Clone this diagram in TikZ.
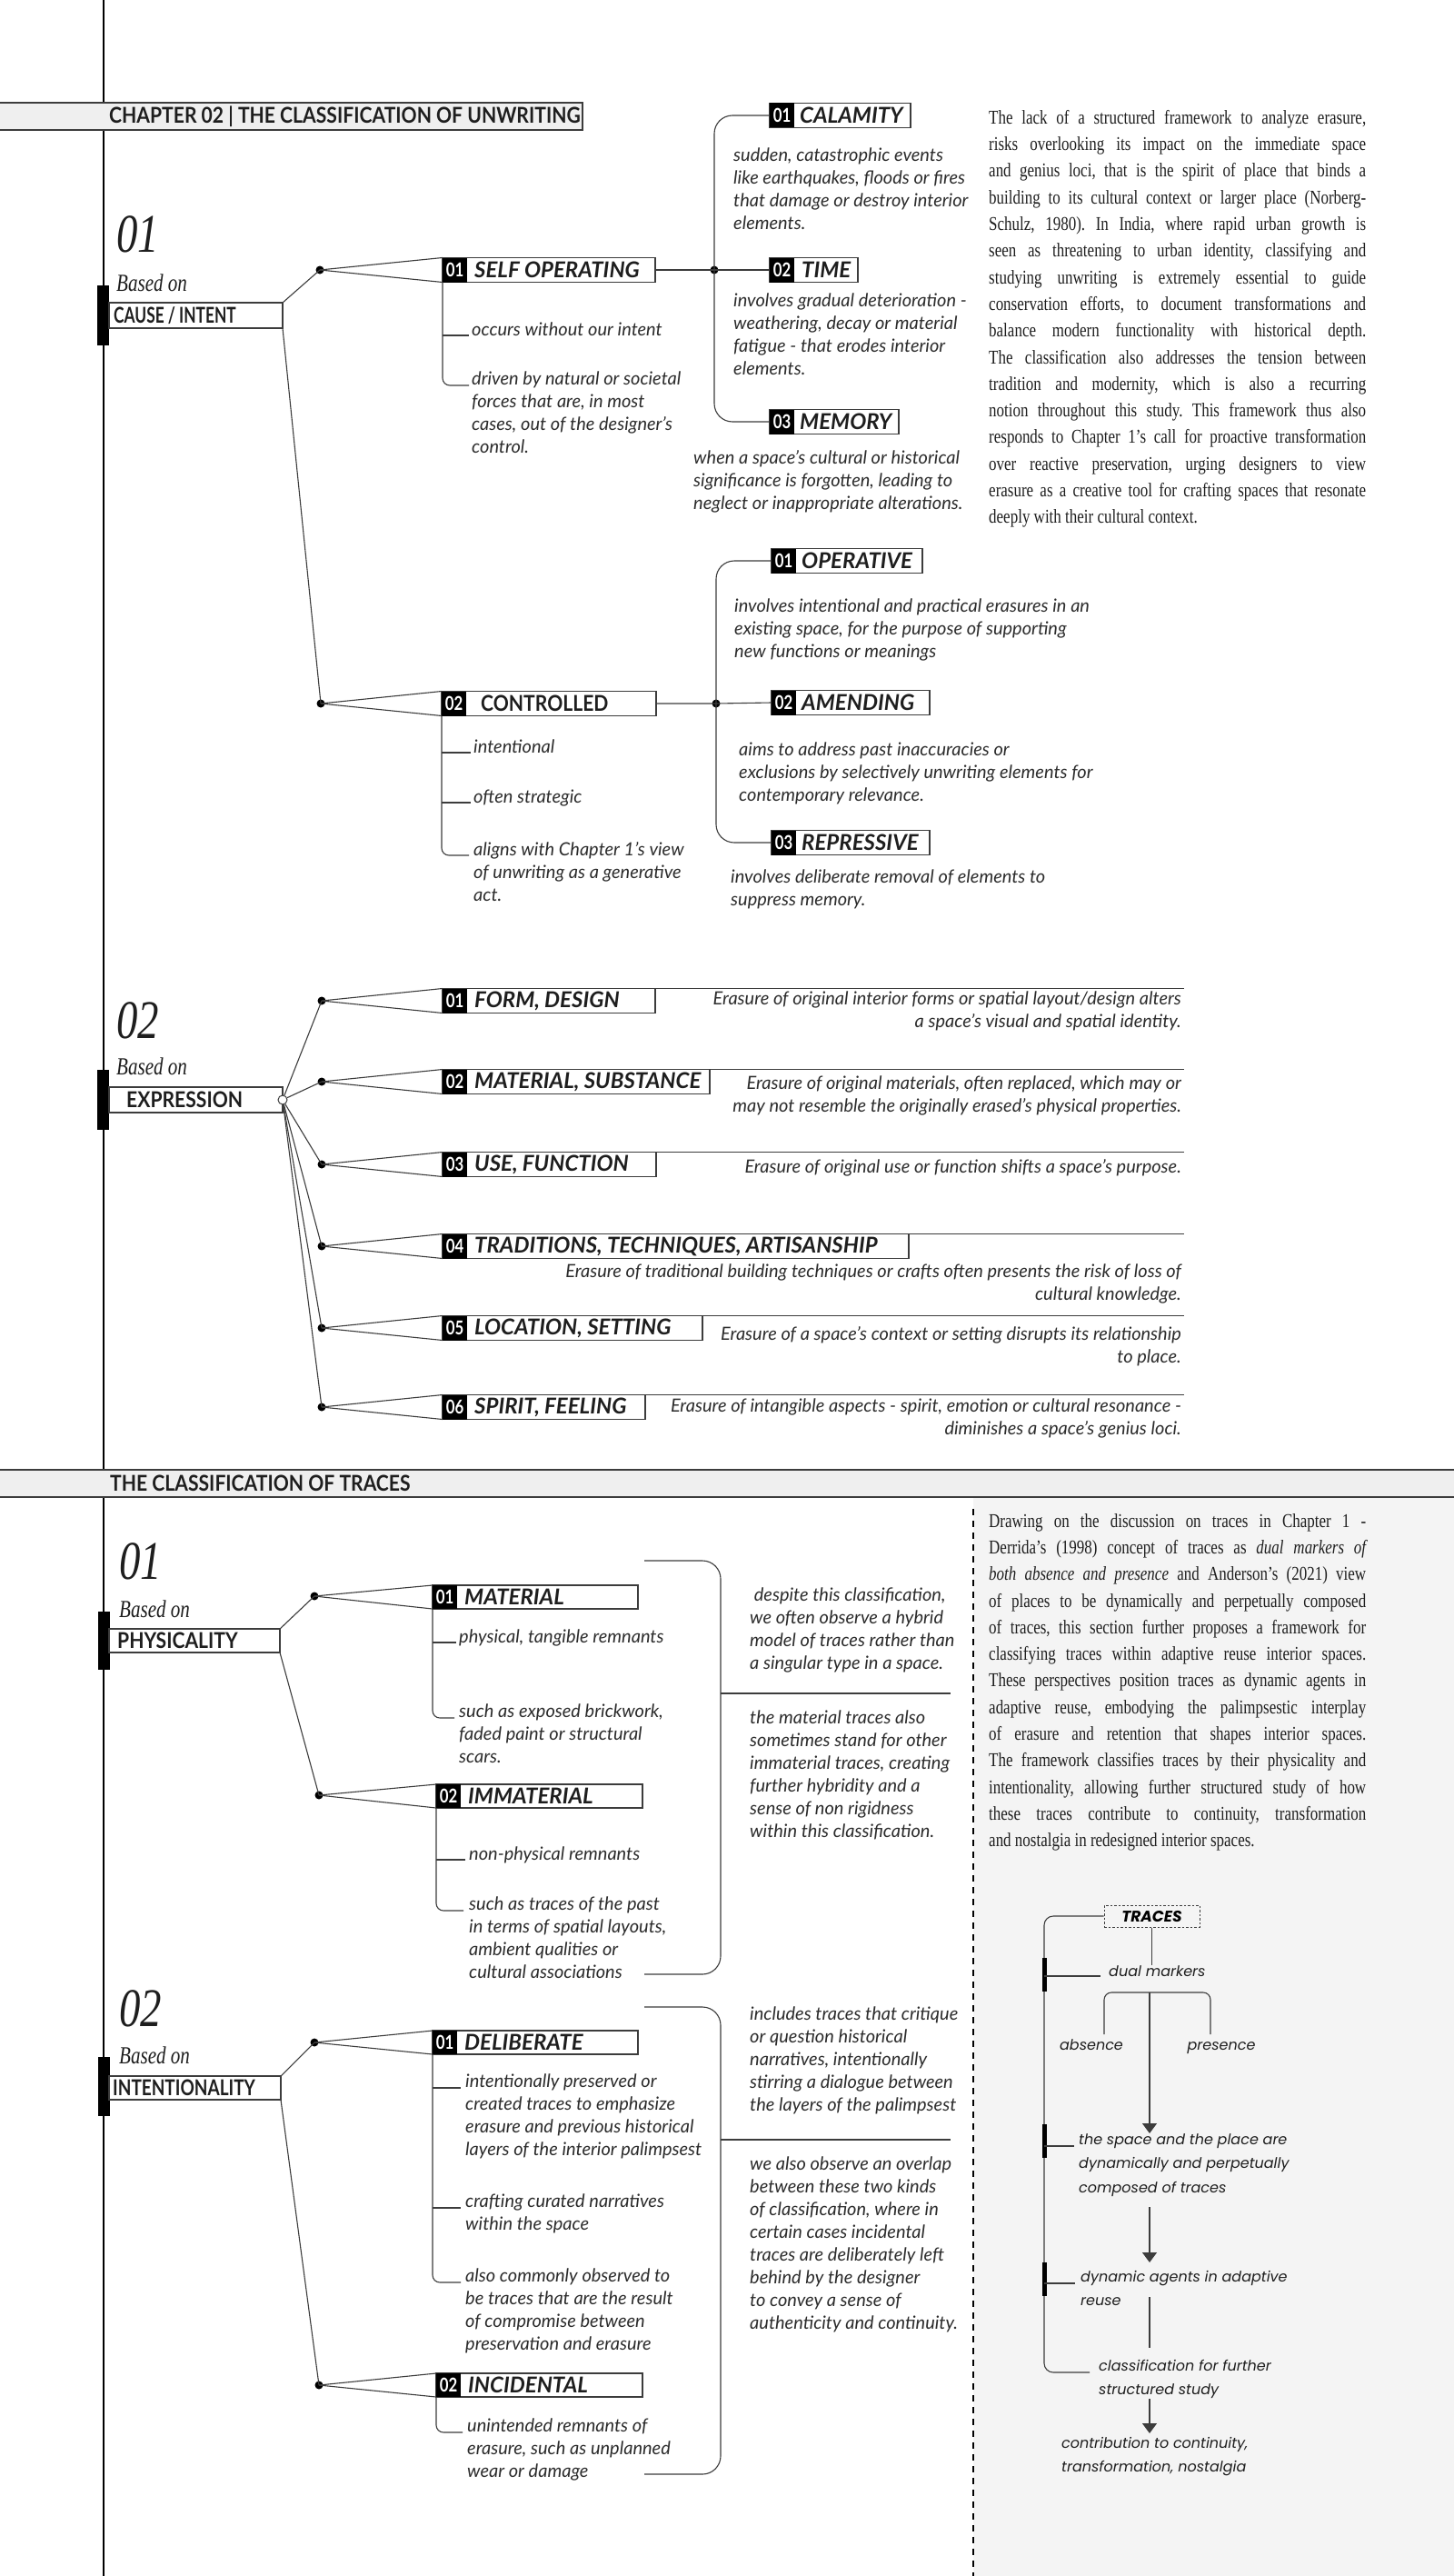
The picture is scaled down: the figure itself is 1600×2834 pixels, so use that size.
\documentclass[tikz,border=0pt]{standalone}
\usepackage{graphicx}
\usepackage{fontspec}
\setmainfont{Liberation Serif}
\newfontfamily\catfont[FakeStretch=0.88]{Lato}
\newfontfamily\titlefont{Lato}
\newfontfamily\sqfont[FakeStretch=0.8]{Lato}
\newfontfamily\notefont{Lato}
\newfontfamily\numfont[FakeStretch=0.78]{Liberation Serif}
\newfontfamily\parafont[FakeStretch=0.79]{Liberation Serif}
\newfontfamily\flowfont{Poppins}
\usetikzlibrary{arrows.meta,positioning}
\definecolor{ink}{HTML}{1E1E1E}
\definecolor{notegray}{HTML}{2C2C2C}
\definecolor{rulegray}{HTML}{3C3C3C}
\definecolor{bandfill}{HTML}{EFEFEF}
\definecolor{panelfill}{HTML}{F4F4F4}
\tikzset{
  link/.style={draw=rulegray, line width=1.1pt},
  band/.style={draw=rulegray, line width=1.4pt, fill=bandfill},
  bandtxt/.style={anchor=west, inner sep=0pt, text=ink, font=\catfont\bfseries\fontsize{24}{24}\selectfont},
  mainbox/.style={draw=rulegray, line width=1.2pt, fill=white, anchor=west, minimum height=28pt, inner sep=0pt, outer sep=0pt},
  maintxt/.style={anchor=west, inner sep=0pt, text=ink, font=\catfont\bfseries\fontsize{24}{24}\selectfont},
  catbox/.style={mainbox, minimum height=27pt},
  numsq/.style={fill=black, text=white, anchor=west, minimum width=27pt, minimum height=27pt, inner sep=0pt, outer sep=0pt,
    font=\sqfont\bfseries\fontsize{21}{21}\selectfont},
  cattxt/.style={maintxt, font=\titlefont\bfseries\itshape\fontsize{24}{24}\selectfont},
  bignum/.style={anchor=west, inner sep=0pt, text=ink, font=\numfont\itshape\fontsize{60}{60}\selectfont},
  basedon/.style={anchor=west, inner sep=0pt, text=ink, font=\numfont\itshape\fontsize{27}{27}\selectfont},
  note/.style={inner sep=0pt, text=notegray, align=left, font=\notefont\itshape\fontsize{20}{25}\selectfont},
  dotn/.style={circle, fill=black, minimum size=9pt, inner sep=0pt},
  bar/.style={fill=black},
  para/.style={anchor=north west, inner sep=0pt, text width=415pt, align=justify, text=ink,
    font=\parafont\fontsize{21.5}{29.3}\selectfont},
  flowtxt/.style={inner sep=0pt, align=left, text=ink, font=\flowfont\itshape\fontsize{16}{26.5}\selectfont},
  flowarr/.style={link, -{Triangle[width=16pt,length=11pt]}}
}

\begin{document}
\begin{tikzpicture}[x=1pt, y=-1pt]
  \useasboundingbox (0,0) rectangle (1600,2834);
  \fill[white] (0,0) rectangle (1600,2834);
  \fill[panelfill] (1071,1647) rectangle (1600,2834);
  \draw[link, draw=black, line width=1.3pt] (114,0) -- (114,2834);
  \draw[link, draw=black, line width=1.4pt, dash pattern=on 7pt off 6pt] (1071,1660) -- (1071,2834);

  % chapter 02 header
  \draw[band] (-1,113) rectangle (641,143);
  \node[bandtxt] (chap) at (120,128) {CHAPTER 02 | THE CLASSIFICATION OF UNWRITING};

  % 01 based on cause / intent
  \node[bignum] (num1) at (128,258) {01};
  \node[basedon] (based1) at (128,311) {Based on};
  \fill[bar] (107,314) rectangle (120,380);
  \node[mainbox, minimum width=191pt] (cause) at (120,347) {};
  \node[maintxt] at (125,347) {\scalebox{0.82}[1]{CAUSE / INTENT}};

  \node[dotn] (dself) at (352,297) {};
  \node[dotn] (dctrl) at (353,774) {};
  \draw[link] (cause.north east) -- (dself.center);
  \draw[link] (cause.south east) -- (dctrl.center);

  \node[catbox, minimum width=234pt] (self) at (487,297) {};
  \node[numsq] (selfn) at (self.west) {01};
  \node[cattxt, right=8pt of selfn] {SELF OPERATING};
  \draw[link] (dself.center) -- (self.north west);
  \draw[link] (dself.center) -- (self.south west);

  \node[note, anchor=base west] (occ) at (519,369) {occurs without our intent};
  \node[note, anchor=north west] (drv) at (519,409) {driven by natural or societal\\forces that are, in most\\cases, out of the designer’s\\control.};
  \draw[link] (self.south west |- occ.base west) -- ([xshift=-3pt]occ.base west);
  \draw[link, rounded corners=8pt] (self.south west) |- ([xshift=-3pt,yshift=-15pt]drv.north west);

  \node[dotn] (dtime) at (786,297) {};
  \draw[link] (self.east) -- (dtime.center);
  \node[catbox, minimum width=155pt] (cal) at (847,127) {};
  \node[numsq] (caln) at (cal.west) {01};
  \node[cattxt, right=6pt of caln] {CALAMITY};
  \node[catbox, minimum width=97pt] (time) at (847,297) {};
  \node[numsq] (timen) at (time.west) {02};
  \node[cattxt, right=8pt of timen] {TIME};
  \node[catbox, minimum width=142pt] (mem) at (847,464) {};
  \node[numsq] (memn) at (mem.west) {03};
  \node[cattxt, right=6pt of memn] {MEMORY};
  \draw[link] (dtime.center) -- (time.west);
  \draw[link, rounded corners=20pt] (cal.west) -| (dtime.center |- mem.west) -- (mem.west);

  \node[note, anchor=north west] at (807,163) {sudden, catastrophic events\\like earthquakes, floods or fires\\that damage or destroy interior\\elements.};
  \node[note, anchor=north west] at (807,323) {involves gradual deterioration -\\weathering, decay or material\\fatigue - that erodes interior\\elements.};
  \node[note, anchor=north west] at (763,495) {when a space’s cultural or historical\\significance is forgotten, leading to\\neglect or inappropriate alterations.};

  \node[para] (intro1) at (1088,121) {\frenchspacing\tolerance=10000\hyphenpenalty=10000
    The lack of a structured framework to analyze erasure, \linebreak
    risks overlooking its impact on the immediate space \linebreak
    and genius loci, that is the spirit of place that binds a \linebreak
    building to its cultural context or larger place (Norberg-\linebreak
    Schulz, 1980). In India, where rapid urban growth is \linebreak
    seen as threatening to urban identity, classifying and \linebreak
    studying unwriting is extremely essential to guide \linebreak
    conservation efforts, to document transformations and \linebreak
    balance modern functionality with historical depth. \linebreak
    The classification also addresses the tension between \linebreak
    tradition and modernity, which is also a recurring \linebreak
    notion throughout this study. This framework thus also \linebreak
    responds to Chapter 1’s call for proactive transformation \linebreak
    over reactive preservation, urging designers to view \linebreak
    erasure as a creative tool for crafting spaces that resonate \linebreak
    deeply with their cultural context.};

  % controlled
  \node[catbox, minimum width=236pt] (ctrl) at (486,774) {};
  \node[numsq] (ctrln) at (ctrl.west) {02};
  \node[maintxt, right=16pt of ctrln] {CONTROLLED};
  \draw[link] (dctrl.center) -- (ctrl.north west);
  \draw[link] (dctrl.center) -- (ctrl.south west);

  \node[note, anchor=base west] (intl) at (521,828) {intentional};
  \node[note, anchor=base west] (strat) at (521,883) {often strategic};
  \node[note, anchor=north west] (gener) at (521,926) {aligns with Chapter 1’s view\\of unwriting as a generative\\act.};
  \draw[link] (ctrl.south west |- intl.base west) -- ([xshift=-3pt]intl.base west);
  \draw[link] (ctrl.south west |- strat.base west) -- ([xshift=-3pt]strat.base west);
  \draw[link, rounded corners=8pt] (ctrl.south west) |- ([xshift=-5pt,yshift=-15pt]gener.north west);

  \node[dotn] (damd) at (788,774) {};
  \node[catbox, minimum width=166pt] (oper) at (849,617) {};
  \node[numsq] (opern) at (oper.west) {01};
  \node[cattxt, right=6pt of opern] {OPERATIVE};
  \node[catbox, minimum width=174pt] (amd) at (849,773) {};
  \node[numsq] (amdn) at (amd.west) {02};
  \node[cattxt, right=6pt of amdn] {AMENDING};
  \node[catbox, minimum width=174pt] (rep) at (849,927) {};
  \node[numsq] (repn) at (rep.west) {03};
  \node[cattxt, right=6pt of repn] {REPRESSIVE};
  \draw[link] (ctrl.east) -- (damd.center) -- (amd.west);
  \draw[link, rounded corners=20pt] (oper.west) -| (damd.center |- rep.west) -- (rep.west);

  \node[note, anchor=north west] at (808,659) {involves intentional and practical erasures in an\\existing space, for the purpose of supporting\\new functions or meanings};
  \node[note, anchor=north west] at (813,817) {aims to address past inaccuracies or\\exclusions by selectively unwriting elements for\\contemporary relevance.};
  \node[note, anchor=north west] at (804,957) {involves deliberate removal of elements to\\suppress memory.};

  % 02 based on expression
  \node[bignum] (num2) at (128,1123) {02};
  \node[basedon] (based2) at (128,1173) {Based on};
  \fill[bar] (107,1177) rectangle (120,1243);
  \node[mainbox, minimum width=191pt] (expr) at (120,1210) {};
  \node[maintxt] at (139,1210) {EXPRESSION};
  \node[circle, draw=rulegray, fill=white, line width=1pt, minimum size=10pt, inner sep=0pt] (exo) at (311,1210) {};

  \foreach \n/\yy/\w/\ttl in {01/1101/234/{FORM, DESIGN}, 02/1190/294/{MATERIAL, SUBSTANCE}, 03/1281/235/{USE, FUNCTION},
      04/1371/513/{TRADITIONS, TECHNIQUES, ARTISANSHIP}, 05/1461/286/{LOCATION, SETTING}, 06/1548/223/{SPIRIT, FEELING}} {
    \node[dotn] (exd\n) at (354,\yy) {};
    \draw[link] (exo) -- (exd\n.center);
    \node[catbox, minimum width=\w pt] (exb\n) at (487,\yy) {};
    \node[numsq] (exn\n) at (exb\n.west) {\n};
    \node[cattxt, right=8pt of exn\n] {\ttl};
    \draw[link] (exd\n.center) -- (exb\n.north west);
    \draw[link] (exd\n.center) -- (exb\n.south west);
    \coordinate (exe\n) at (1303,\yy-13.5);
    \draw[link] (exb\n.north east) -- (exe\n);
  }
  \node[note, anchor=north east, align=right] (exs01) at (1300,1091) {Erasure of original interior forms or spatial layout/design alters\\a space’s visual and spatial identity.};
  \node[note, anchor=north east, align=right] (exs02) at (1300,1184) {Erasure of original materials, often replaced, which may or\\may not resemble the originally erased’s physical properties.};
  \node[note, anchor=north east, align=right] (exs03) at (1300,1275) {Erasure of original use or function shifts a space’s purpose.};
  \node[note, anchor=north east, align=right] (exs04) at (1300,1391) {Erasure of traditional building techniques or crafts often presents the risk of loss of\\cultural knowledge.};
  \node[note, anchor=north east, align=right] (exs05) at (1300,1459) {Erasure of a space’s context or setting disrupts its relationship\\to place.};
  \node[note, anchor=north east, align=right] (exs06) at (1300,1539) {Erasure of intangible aspects - spirit, emotion or cultural resonance -\\diminishes a space’s genius loci.};

  % traces header
  \draw[band] (-1,1617) rectangle (1601,1647);
  \node[bandtxt] (trhead) at (121,1632) {THE CLASSIFICATION OF TRACES};

  % 01 based on physicality
  \node[bignum] (num3) at (131,1718) {01};
  \node[basedon] (based3) at (131,1770) {Based on};
  \fill[bar] (108,1773) rectangle (121,1837);
  \node[mainbox, minimum height=26pt, minimum width=188pt] (phys) at (120,1805) {};
  \node[maintxt] at (129,1805) {PHYSICALITY};

  \node[dotn] (dmat) at (346,1756) {};
  \node[dotn] (dimm) at (351,1975) {};
  \draw[link] (phys.north east) -- (dmat.center);
  \draw[link] (phys.south east) -- (dimm.center);
  \node[catbox, minimum height=26pt, minimum width=226pt] (mat) at (476,1757) {};
  \node[numsq, minimum height=26pt] (matn) at (mat.west) {01};
  \node[cattxt, right=8pt of matn] {MATERIAL};
  \node[catbox, minimum height=26pt, minimum width=227pt] (imm) at (480,1976) {};
  \node[numsq, minimum height=26pt] (immn) at (imm.west) {02};
  \node[cattxt, right=8pt of immn] {IMMATERIAL};
  \draw[link] (dmat.center) -- (mat.north west);
  \draw[link] (dmat.center) -- (mat.south west);
  \draw[link] (dimm.center) -- (imm.north west);
  \draw[link] (dimm.center) -- (imm.south west);

  \node[note, anchor=base west] (tang) at (505,1807) {physical, tangible remnants};
  \node[note, anchor=north west] (brick) at (505,1875) {such as exposed brickwork,\\faded paint or structural\\scars.};
  \draw[link] (mat.south west |- tang.base west) -- ([xshift=-3pt]tang.base west);
  \draw[link, rounded corners=8pt] (mat.south west) |- ([xshift=-5pt,yshift=-15pt]brick.north west);
  \node[note, anchor=base west] (nonph) at (516,2046) {non-physical remnants};
  \node[note, anchor=north west] (past) at (516,2087) {such as traces of the past\\in terms of spatial layouts,\\ambient qualities or\\cultural associations};
  \draw[link] (imm.south west |- nonph.base west) -- ([xshift=-4pt]nonph.base west);
  \draw[link, rounded corners=8pt] (imm.south west) |- ([xshift=-6pt,yshift=-15pt]past.north west);

  \coordinate (phtop) at (709,1717);
  \coordinate (phmid) at (793,1863);
  \coordinate (phbot) at (709,2172);
  \coordinate (phend) at (1046,1863);
  \draw[link, rounded corners=20pt] (phtop) -| (phmid) |- (phbot);
  \draw[link] (phmid) -- (phend);
  \node[note, anchor=north west] at (825,1747) {\ despite this classification,\\we often observe a hybrid\\model of traces rather than\\a singular type in a space.};
  \node[note, anchor=north west] at (825,1882) {the material traces also\\sometimes stand for other\\immaterial traces, creating\\further hybridity and a\\sense of non rigidness\\within this classification.};

  \node[para] (intro2) at (1088,1665) {\frenchspacing\tolerance=10000\hyphenpenalty=10000
    Drawing on the discussion on traces in Chapter 1 - \linebreak
    Derrida’s (1998) concept of traces as \textit{dual markers of \linebreak
    both absence and presence} and Anderson’s (2021) view \linebreak
    of places to be dynamically and perpetually composed \linebreak
    of traces, this section further proposes a framework for \linebreak
    classifying traces within adaptive reuse interior spaces. \linebreak
    These perspectives position traces as dynamic agents in \linebreak
    adaptive reuse, embodying the palimpsestic interplay \linebreak
    of erasure and retention that shapes interior spaces. \linebreak
    The framework classifies traces by their physicality and \linebreak
    intentionality, allowing further structured study of how \linebreak
    these traces contribute to continuity, transformation \linebreak
    and nostalgia in redesigned interior spaces.};

  % 02 based on intentionality
  \node[bignum] (num4) at (131,2210) {02};
  \node[basedon] (based4) at (131,2261) {Based on};
  \fill[bar] (108,2263) rectangle (121,2328);
  \node[mainbox, minimum height=26pt, minimum width=189pt] (intn) at (120,2297) {};
  \node[maintxt] at (124,2297) {\scalebox{0.9}[1]{INTENTIONALITY}};

  \node[dotn] (ddel) at (346,2247) {};
  \node[dotn] (dinc) at (351,2624) {};
  \draw[link] (intn.north east) -- (ddel.center);
  \draw[link] (intn.south east) -- (dinc.center);
  \node[catbox, minimum height=26pt, minimum width=226pt] (del) at (476,2247) {};
  \node[numsq, minimum height=26pt] (deln) at (del.west) {01};
  \node[cattxt, right=8pt of deln] {DELIBERATE};
  \node[catbox, minimum height=26pt, minimum width=227pt] (inc) at (480,2624) {};
  \node[numsq, minimum height=26pt] (incn) at (inc.west) {02};
  \node[cattxt, right=8pt of incn] {INCIDENTAL};
  \draw[link] (ddel.center) -- (del.north west);
  \draw[link] (ddel.center) -- (del.south west);
  \draw[link] (dinc.center) -- (inc.north west);
  \draw[link] (dinc.center) -- (inc.south west);

  \node[note, anchor=north west] (pres1) at (512,2282) {intentionally preserved or\\created traces to emphasize\\erasure and previous historical\\layers of the interior palimpsest};
  \node[note, anchor=north west] (craft) at (512,2414) {crafting curated narratives\\within the space};
  \node[note, anchor=north west] (comp) at (512,2496) {also commonly observed to\\be traces that are the result\\of compromise between\\preservation and erasure};
  \coordinate (presb) at ([xshift=-5pt,yshift=-15pt]pres1.north west);
  \coordinate (craftb) at ([xshift=-5pt,yshift=-15pt]craft.north west);
  \draw[link] (del.south west |- presb) -- (presb);
  \draw[link] (del.south west |- craftb) -- (craftb);
  \draw[link, rounded corners=8pt] (del.south west) |- ([xshift=-5pt,yshift=-15pt]comp.north west);
  \node[note, anchor=north west] (unint) at (514,2661) {unintended remnants of\\erasure, such as unplanned\\wear or damage};
  \draw[link, rounded corners=8pt] (inc.south west) |- ([xshift=-5pt,yshift=-15pt]unint.north west);

  \coordinate (intop) at (709,2208);
  \coordinate (inmid) at (793,2354);
  \coordinate (inbot) at (709,2722);
  \coordinate (inend) at (1046,2354);
  \draw[link, rounded corners=20pt] (intop) -| (inmid) |- (inbot);
  \draw[link] (inmid) -- (inend);
  \node[note, anchor=north west] at (825,2208) {includes traces that critique\\or question historical\\narratives, intentionally\\stirring a dialogue between\\the layers of the palimpsest};
  \node[note, anchor=north west] at (825,2373) {we also observe an overlap\\between these two kinds\\of classification, where in\\certain cases incidental\\traces are deliberately left\\behind by the designer\\to convey a sense of\\authenticity and continuity.};

  % traces flow
  \coordinate (railx) at (1149,0);
  \coordinate (split) at (1265,2192);
  \coordinate (legl) at (1215,2238);
  \coordinate (legr) at (1332,2238);
  \node[draw=rulegray, line width=1pt, dash pattern=on 2.5pt off 2pt, minimum width=105pt, minimum height=24pt, inner sep=0pt,
    font=\flowfont\bfseries\itshape\fontsize{17}{17}\selectfont] (traces) at (1267.5,2108) {TRACES};
  \node[flowtxt, anchor=base west] (dual) at (1220,2174) {dual markers};
  \node[flowtxt, anchor=base] (absn) at (1201,2255) {absence};
  \node[flowtxt, anchor=base] (pres) at (1344,2255) {presence};
  \node[flowtxt, anchor=north west] (spc) at (1187,2347) {the space and the place are\\dynamically and perpetually\\composed of traces};
  \node[flowtxt, anchor=north west] (dyn) at (1189,2498) {dynamic agents in adaptive\\reuse};
  \node[flowtxt, anchor=north west] (cls) at (1209,2596) {classification for further\\structured study};
  \node[flowtxt, anchor=north west] (contr) at (1168,2681) {contribution to continuity,\\transformation, nostalgia};

  \coordinate (spcb) at ([xshift=-5pt,yshift=-14pt]spc.north west);
  \coordinate (dynb) at ([xshift=-6pt,yshift=-14pt]dyn.north west);
  \coordinate (clsb) at ([xshift=-10pt,yshift=-14pt]cls.north west);
  \draw[link, rounded corners=10pt] (traces.west) -| (railx |- clsb) -- (clsb);
  \fill[bar] (1146.5,2154) rectangle (1151.5,2191);
  \fill[bar] (1146.5,2337) rectangle (1151.5,2374);
  \fill[bar] (1146.5,2489) rectangle (1151.5,2526);
  \draw[link] (railx |- dual.base) -- ([xshift=-9pt]dual.base west);
  \draw[link] (railx |- spcb) -- (spcb);
  \draw[link] (railx |- dynb) -- (dynb);

  \draw[link] (traces.south) -- (traces.south |- dual.north);
  \draw[link, rounded corners=8pt] (legl) |- (split) -| (legr);
  \draw[flowarr] (split) -- (split |- spc.north);
  \draw[flowarr, shorten <=12pt, shorten >=9pt] (spc.south -| split) -- (dyn.north -| split);
  \draw[link, shorten <=-10pt, shorten >=13pt] (dyn.south -| split) -- (cls.north -| split);
  \draw[flowarr, shorten >=4pt] (cls.south -| split) -- (contr.north -| split);
\end{tikzpicture}
\end{document}
